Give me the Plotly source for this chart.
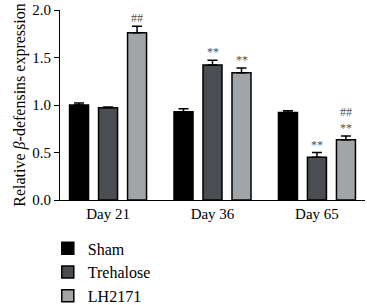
import plotly.graph_objects as go

categories = ["Day 21", "Day 36", "Day 65"]
series_names = ["Sham", "Trehalose", "LH2171"]
sham = [1.00, 0.93, 0.92]
sham_err = [0.02, 0.03, 0.02]
trehalose = [0.97, 1.42, 0.45]
trehalose_err = [0.01, 0.05, 0.05]
lh2171 = [1.76, 1.34, 0.635]
lh2171_err = [0.07, 0.05, 0.04]
# significance marks per series, per category
sham_marks = ["", "", ""]
trehalose_marks = ["", "**", "**"]
lh2171_marks = ["##", "**", "##<br>**"]

colors = ["#000000", "#4a4d51", "#a2a5a8"]
values = [sham, trehalose, lh2171]
errors = [sham_err, trehalose_err, lh2171_err]
marks = [sham_marks, trehalose_marks, lh2171_marks]

FONT = "Liberation Serif, Times New Roman, serif"
BARGAP = 0.167
BARGROUPGAP = 0.345

fig = go.Figure()
for k, (name, vals, errs, col) in enumerate(zip(series_names, values, errors, colors)):
    fig.add_trace(go.Bar(
        x=categories, y=vals, name=name, legendgroup=name,
        marker=dict(color=col, line=dict(color="#000000", width=1.5)),
        error_y=dict(type="data", array=errs, arrayminus=[0]*len(errs),
                     symmetric=False, color="#000000", thickness=1.5, width=5),
    ))

slot = (1 - BARGAP) / len(series_names)
for k in range(len(series_names)):
    off = (k - (len(series_names) - 1) / 2) * slot
    for i, cat in enumerate(categories):
        txt = marks[k][i]
        if not txt:
            continue
        fig.add_annotation(
            x=i + off, y=values[k][i] + errors[k][i], xref="x", yref="y",
            text=txt, showarrow=False, yanchor="bottom", yshift=-1,
            font=dict(family=FONT, size=12, color="#505050"),
        )

fig.update_layout(
    width=367, height=305,
    margin=dict(l=60, r=2, t=10, b=105, autoexpand=False),
    paper_bgcolor="white", plot_bgcolor="white",
    barmode="group", bargap=BARGAP, bargroupgap=BARGROUPGAP,
    font=dict(family=FONT, size=15, color="#000000"),
    showlegend=True,
    legend=dict(orientation="v", x=-0.04, xanchor="left", y=-0.165, yanchor="top",
                font=dict(family=FONT, size=16), tracegroupgap=0,
                bgcolor="rgba(0,0,0,0)"),
)
fig.update_xaxes(
    type="category", range=[-0.46, 2.46], showline=True, linecolor="#000000",
    linewidth=1.2, ticks="", showgrid=False, zeroline=False, automargin=False,
    tickfont=dict(family=FONT, size=15),
)
fig.update_yaxes(
    range=[0, 2.0], tickvals=[0, 0.5, 1.0, 1.5, 2.0],
    ticktext=["0.0", "0.5", "1.0", "1.5", "2.0"],
    showline=True, linecolor="#000000", linewidth=1.2, automargin=False,
    ticks="outside", ticklen=5, tickcolor="#000000", showgrid=False, zeroline=False,
    tickfont=dict(family=FONT, size=15),
    title=dict(text="Relative <i>β</i>-defensins expression",
               font=dict(family=FONT, size=16), standoff=2),
)

fig.write_html("out.html", config={"displayModeBar": False},
               post_script="document.body.style.margin='0';")
